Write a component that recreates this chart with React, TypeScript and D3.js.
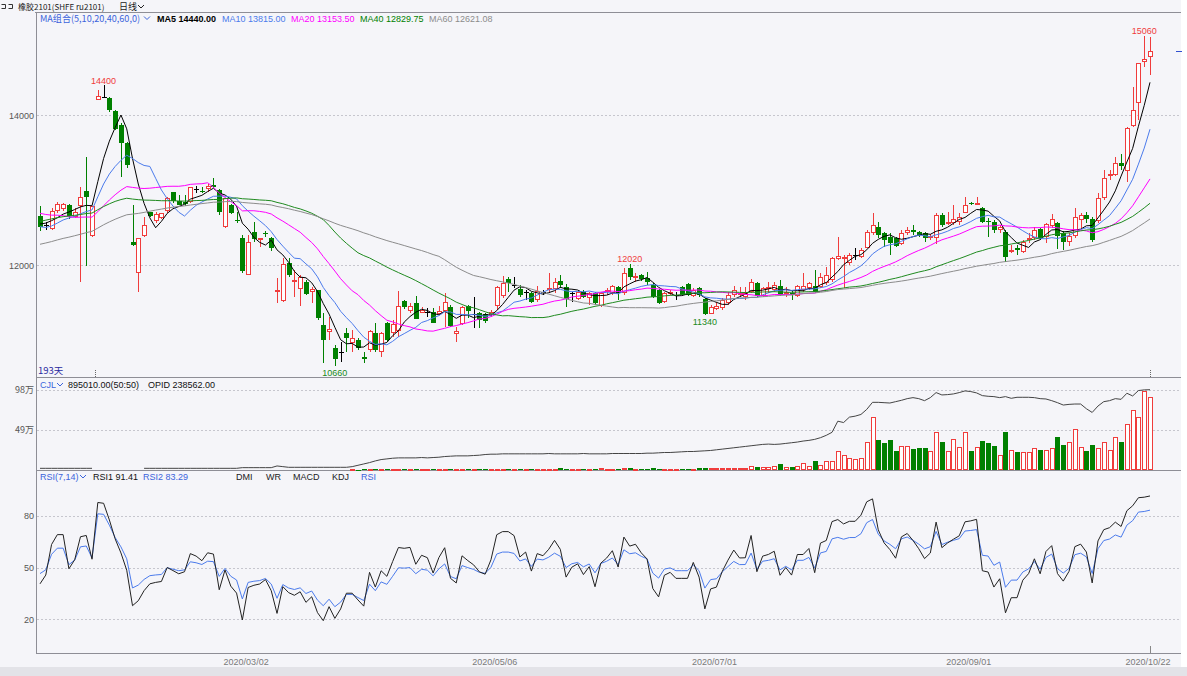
import React from "react";
import * as d3 from "d3";

// ru2101 daily bars, 2020/01/02 .. 2020/10/22 (193 trading days)
const openPx = [
  12653, 12540, 12489, 12724, 12742, 12796, 12636, 12787, 12991, 12387,
  14200, 14244, 14222, 14058, 13867, 13622, 12311, 11889, 12387, 12702,
  12578, 12622, 12711, 12969, 12858, 12844, 12831, 13013, 12987, 13009,
  13067, 13000, 12498, 12800, 12600, 12356, 11867, 12436, 12350, 12422,
  12364, 11636, 11520, 12031, 11800, 11689, 11778, 11640, 11667, 11200,
  11098, 10889, 10844, 11089, 10956, 11000, 10778, 10876, 11098, 10831,
  11231, 11089, 11124, 11524, 11391, 11498, 11364, 11378, 11378, 11347,
  11391, 11444, 11080, 11213, 11453, 11347, 11364, 11347, 11333, 11444,
  11578, 11809, 11733, 11676, 11644, 11631, 11533, 11644, 11667, 11689,
  11791, 11711, 11622, 11556, 11644, 11556, 11622, 11453, 11644, 11622,
  11711, 11622, 11956, 11836, 11867, 11831, 11733, 11667, 11498, 11622,
  11600, 11711, 11747, 11587, 11689, 11542, 11347, 11409, 11422, 11489,
  11600, 11615, 11578, 11644, 11756, 11587, 11689, 11667, 11720, 11622,
  11631, 11587, 11667, 11689, 11720, 11711, 11756, 11800, 12076, 12076,
  12022, 12133, 12111, 12236, 12431, 12511, 12422, 12378, 12356, 12289,
  12422, 12467, 12444, 12422, 12356, 12356, 12667, 12556, 12556, 12578,
  12698, 12831, 12813, 12764, 12587, 12569, 12458, 12440, 12178, 12222,
  12178, 12333, 12356, 12476, 12369, 12511, 12564, 12431, 12311, 12378,
  12600, 12667, 12609, 12578, 12889, 13187, 13200, 13364, 13253, 13853,
  14156, 14698, 14778,
];
const highPx = [
  12787, 12580, 12756, 12845, 12830, 12820, 12756, 13045, 13445, 12790,
  14330, 14400, 14240, 14070, 13900, 13640, 12800, 12360, 12644, 12710,
  12711, 12700, 12911, 12980, 12933, 12933, 13044, 13053, 13044, 13080,
  13156, 13010, 12890, 12810, 12711, 12400, 12400, 12569, 12360, 12458,
  12378, 11822, 12089, 12089, 11933, 11867, 11800, 11711, 11670, 11356,
  11311, 10933, 10978, 11156, 11133, 11022, 10844, 11133, 11231, 11111,
  11244, 11267, 11658, 11530, 11489, 11587, 11444, 11422, 11422, 11458,
  11622, 11467, 11178, 11458, 11467, 11569, 11378, 11360, 11400, 11720,
  11853, 11844, 11844, 11733, 11667, 11644, 11720, 11667, 11889, 11822,
  11867, 11747, 11644, 11660, 11670, 11640, 11640, 11640, 11689, 11733,
  11720, 11956, 12020, 11889, 11880, 11911, 11756, 11676, 11644, 11667,
  11644, 11720, 11760, 11689, 11711, 11556, 11467, 11511, 11556, 11644,
  11720, 11711, 11711, 11809, 11778, 11711, 11778, 11778, 11800, 11711,
  11667, 11733, 11889, 11778, 11933, 11889, 11969, 12111, 12369, 12133,
  12164, 12222, 12222, 12467, 12698, 12578, 12444, 12422, 12370, 12467,
  12511, 12533, 12460, 12444, 12420, 12698, 12689, 12711, 12800, 12689,
  12911, 12844, 12911, 12778, 12622, 12600, 12530, 12467, 12267, 12267,
  12333, 12422, 12511, 12489, 12564, 12676, 12578, 12453, 12422, 12756,
  12698, 12711, 12644, 12964, 13267, 13267, 13436, 13480, 13844, 14378,
  14698, 15060, 15040,
];
const lowPx = [
  12458, 12470, 12467, 12689, 12720, 12620, 12622, 11778, 11991, 12378,
  14200, 14222, 14040, 13800, 13178, 13289, 12260, 11636, 12378, 12640,
  12564, 12610, 12698, 12830, 12800, 12787, 12822, 12956, 12956, 12978,
  13022, 12667, 12489, 12680, 12564, 11898, 11867, 12311, 12245, 12378,
  12187, 11498, 11511, 11844, 11578, 11458, 11600, 11489, 11270, 10689,
  11000, 10660, 10711, 10844, 10844, 10867, 10689, 10844, 10844, 10778,
  10978, 11044, 11044, 11420, 11356, 11276, 11356, 11311, 11222, 11333,
  11178, 11178, 10978, 11200, 11289, 11156, 11156, 11230, 11310, 11400,
  11556, 11644, 11689, 11578, 11533, 11489, 11511, 11600, 11622, 11631,
  11689, 11444, 11511, 11533, 11560, 11467, 11467, 11444, 11600, 11600,
  11533, 11600, 11800, 11778, 11790, 11733, 11556, 11480, 11489, 11600,
  11533, 11587, 11590, 11578, 11578, 11340, 11345, 11400, 11400, 11467,
  11578, 11578, 11533, 11622, 11578, 11578, 11622, 11644, 11587, 11578,
  11533, 11578, 11644, 11667, 11631, 11689, 11733, 11778, 12067, 11689,
  12000, 12067, 12089, 12222, 12400, 12356, 12245, 12133, 12245, 12267,
  12400, 12400, 12378, 12311, 12330, 12280, 12511, 12533, 12533, 12533,
  12689, 12800, 12800, 12556, 12378, 12422, 12422, 12044, 12156, 12133,
  12156, 12298, 12333, 12333, 12289, 12489, 12209, 12200, 12253, 12356,
  12489, 12556, 12311, 12556, 12867, 13133, 13187, 13267, 13111, 13844,
  13933, 14644, 14533,
];
const closePx = [
  12502, 12540, 12724, 12813, 12813, 12644, 12702, 12902, 12916, 12787,
  14253, 14244, 14058, 13822, 13622, 13333, 12267, 12356, 12533, 12653,
  12676, 12689, 12889, 12844, 12800, 12822, 13036, 13013, 12973, 13053,
  13044, 12711, 12889, 12689, 12587, 11911, 12311, 12342, 12358, 12409,
  12231, 11667, 12009, 11867, 11805, 11844, 11622, 11676, 11289, 11000,
  11142, 10742, 10844, 11022, 11022, 10889, 10756, 11124, 10867, 11089,
  11000, 11209, 11453, 11444, 11458, 11289, 11400, 11378, 11231, 11391,
  11511, 11187, 11124, 11444, 11391, 11347, 11276, 11253, 11378, 11702,
  11756, 11756, 11733, 11600, 11644, 11511, 11658, 11644, 11698, 11778,
  11733, 11556, 11622, 11644, 11578, 11622, 11489, 11631, 11667, 11720,
  11631, 11889, 11836, 11853, 11809, 11778, 11578, 11498, 11622, 11640,
  11600, 11600, 11600, 11667, 11600, 11347, 11444, 11453, 11533, 11600,
  11667, 11630, 11631, 11778, 11587, 11698, 11711, 11733, 11600, 11644,
  11600, 11720, 11720, 11756, 11644, 11844, 11867, 12089, 12120, 12102,
  12133, 12133, 12200, 12444, 12533, 12400, 12333, 12298, 12253, 12431,
  12467, 12436, 12400, 12356, 12387, 12667, 12533, 12578, 12613, 12644,
  12800, 12813, 12831, 12578, 12569, 12458, 12502, 12102, 12200, 12200,
  12311, 12356, 12467, 12356, 12547, 12609, 12387, 12311, 12387, 12636,
  12667, 12613, 12333, 12889, 13156, 13209, 13356, 13320, 13822, 14067,
  14689, 14742, 14858,
];
// closes before the window, used only to warm up MA / RSI
const priorCloses = [
  11520, 11580, 11490, 11610, 11650, 11560, 11700, 11640, 11720, 11680,
  11600, 11750, 11690, 11760, 11640, 11710, 11800, 11740, 11690, 11780,
  11900, 12050, 12150, 12300, 12250, 12380, 12450, 12400, 12520, 12480,
  12560, 12600, 12530, 12650, 12620, 12700, 12680, 12750, 12720, 12800,
  12850, 12900, 12830, 12950, 12880, 12920, 12840, 12870, 12810, 12820,
  12650, 12520, 12430, 12400, 12380, 12480, 12560, 12620, 12570,
];
// volume, 万手
const volume = [
  0, 0, 0, 0, 0, 0, 0, 0, 0, 0,
  0, 0, 0, 0, 0, 0, 0, 0, 0, 0,
  0, 0, 0, 0, 0, 0, 0, 0, 0, 0,
  0, 0, 0, 0, 0, 0, 0, 0, 0, 0,
  0, 0, 0, 0, 0, 0, 0, 0, 0, 0,
  0, 0, 0, 0, 0.8, 0.6, 1.0, 0.8, 1.2, 0.8,
  1.0, 0.8, 1.5, 1.0, 0.8, 1.2, 0.8, 1.0, 1.2, 0.9,
  1.5, 1.4, 1.0, 1.6, 1.2, 1.3, 1.4, 1.5, 1.2, 1.8,
  1.6, 1.5, 1.3, 1.6, 1.2, 1.5, 1.6, 1.2, 1.8, 1.5,
  2.2, 1.8, 1.3, 1.5, 1.4, 1.6, 1.8, 1.9, 1.5, 1.7,
  1.6, 2.4, 2.0, 1.6, 1.5, 1.7, 2.0, 1.8, 1.5, 1.4,
  1.6, 1.7, 1.8, 1.6, 2.8, 3.0, 2.0, 2.1, 2.5, 3.0,
  3.0, 2.6, 3.0, 4.5, 3.8, 3.2, 3.6, 5.0, 6.9, 4.0,
  3.3, 4.5, 8.2, 5.3, 10.6, 5.7, 11.0, 11.0, 23.3, 18.4,
  15.1, 13.5, 14.3, 33.9, 64.5, 37.2, 33.0, 37.2, 23.3, 29.0,
  29.0, 25.7, 26.5, 26.5, 23.3, 46.0, 34.7, 23.3, 38.0, 28.2,
  46.0, 23.3, 27.8, 35.5, 33.0, 29.4, 18.4, 46.0, 24.0, 22.0,
  22.0, 22.0, 26.5, 25.0, 25.0, 27.4, 40.4, 30.2, 34.7, 50.2,
  28.2, 23.3, 30.2, 27.4, 34.7, 25.0, 40.0, 34.7, 56.3, 72.7,
  65.0, 96.8, 89.501,
];
// open interest (OPID), 千手; null = no quote for ru2101 yet
const openInterest = [
  5, 5, 5, 5, 5, 5, 5, 5, 5, 5,
  null, null, null, null, null, null, null, null, 5, 5,
  5, 5, 5, 5, 5, 5, 5, 5, 5, 5,
  5, 5, 5, 5, 5, 7, 7, 7, 7, 7,
  7, 12, 10, 8, 8, 8, 8, 8, 8, 8,
  8, 8, 8, 8, 10, 14, 18, 22, 27, 31,
  33, 35, 36, 36, 36, 36, 37, 36, 37, 38,
  40, 41, 42, 42, 42, 43, 44, 46, 47, 47,
  48, 48, 48, 48, 48, 48, 48, 48, 49, 48,
  48, 48, 48, 48, 49, 48, 48, 48, 48, 49,
  49, 49, 49, 49, 49, 50, 50, 51, 52, 52,
  53, 54, 55, 55, 56, 57, 58, 60, 62, 64,
  66, 68, 70, 72, 74, 76, 77, 76, 77, 79,
  81, 83, 86, 88, 91, 96, 103, 112, 145, 141,
  157, 160, 165, 180, 201, 201, 200, 199, 203, 207,
  212, 215, 212, 206, 215, 230, 223, 224, 226, 230,
  235, 233, 229, 221, 219, 218, 215, 218, 213, 216,
  216, 216, 215, 212, 211, 206, 200, 193, 195, 196,
  196, 182, 171, 190, 203, 206, 212, 210, 228, 220,
  236, 238, 238.562,
];
const dateTicks = [
  { day: 36, label: "2020/03/02" },
  { day: 79, label: "2020/05/06" },
  { day: 117, label: "2020/07/01" },
  { day: 161, label: "2020/09/01" },
  { day: 192, label: "2020/10/22" },
];
const peakDays = [11, 102, 191];
const troughDays = [51, 115];
const maPeriods = [5, 10, 20, 40, 60];
const maColors = ["#000000", "#4b7bec", "#ff00ff", "#1f8a1f", "#8c8c8c"];
const maLegend = ["MA5 14440.00", "MA10 13815.00", "MA20 13153.50", "MA40 12829.75", "MA60 12621.08"];
const priceTicks = [12000, 14000];
const volTicks = [49, 98];
const rsiTicks = [20, 50, 80];

const W = 1187;
const H = 676;
const RED = "#f03c3c";
const GREEN = "#008000";
const BG = "#f5f5f9";
const GRID = "#c6c6ce";
const AXIS = "#8e8e96";
const BLUE = "#3c64dc";
const FONT = "'Liberation Sans', Arial, sans-serif";
const CJK = "'Noto Sans CJK SC', 'Liberation Sans', sans-serif";

const series = [...priorCloses, ...closePx];
const warm = priorCloses.length;

function movingAvg(n: number) {
  return closePx.map((_, i) => d3.mean(series.slice(warm + i - n + 1, warm + i + 1)) as number);
}

// RSI as in Chinese quote software: SMA(MAX(C-LC,0),N,1)/SMA(ABS(C-LC),N,1)*100
function rsi(n: number) {
  let up = 0;
  let all = 0;
  const out: number[] = [];
  for (let k = 1; k < series.length; k++) {
    const d = series[k] - series[k - 1];
    up = (Math.max(d, 0) + (n - 1) * up) / n;
    all = (Math.abs(d) + (n - 1) * all) / n;
    if (k >= warm) out.push(all === 0 ? 50 : (100 * up) / all);
  }
  return out;
}

function Chev({ x, y, color }: { x: number; y: number; color: string }) {
  return <path d={`M${x},${y} l3,3 l3,-3`} fill="none" stroke={color} strokeWidth={1} />;
}

export default function App() {
  const n = closePx.length;
  const x = d3.scaleLinear().domain([0, n - 1]).range([40, 1150]);
  const yP = d3.scaleLinear().domain([12000, 14000]).range([265, 115]);
  const yV = d3.scaleLinear().domain([0, 98]).range([470, 389.7]);
  const yOi = d3.scaleLinear().domain([0, d3.max(openInterest as number[]) as number]).range([470, 389.7]);
  const yR = d3.scaleLinear().domain([20, 80]).range([619.3, 515.7]);
  const px = (i: number) => Math.round(x(i));

  const maLine = d3.line<number>().x((_, i) => x(i)).y((v) => yP(v));
  const oiLine = d3
    .line<number | null>()
    .defined((v) => v !== null)
    .x((_, i) => x(i))
    .y((v) => yOi(v as number));
  const rsiLine = d3.line<number>().x((_, i) => x(i)).y((v) => yR(v));

  const mas = maPeriods.map(movingAvg);
  const rsi1 = rsi(7);
  const rsi2 = rsi(14);

  const candles = closePx.map((c, i) => {
    const o = openPx[i];
    const cx = px(i) + 0.5;
    const top = yP(Math.max(o, c));
    const bot = yP(Math.min(o, c));
    if (o === c) {
      return (
        <g key={i} stroke="#000">
          <line x1={cx} x2={cx} y1={yP(highPx[i])} y2={yP(lowPx[i])} />
          <line x1={cx - 2.5} x2={cx + 2.5} y1={Math.round(top) + 0.5} y2={Math.round(top) + 0.5} />
        </g>
      );
    }
    const color = c > o ? RED : GREEN;
    const h = Math.max(1, Math.round(bot - top));
    return (
      <g key={i}>
        <line x1={cx} x2={cx} y1={yP(highPx[i])} y2={yP(lowPx[i])} stroke={color} />
        {c > o ? (
          <rect x={cx - 2} y={Math.round(top) + 0.5} width={4} height={Math.max(1, h - 1)} fill="#ffffff" stroke={RED} />
        ) : (
          <rect x={cx - 2.5} y={Math.round(top)} width={5} height={h} fill={GREEN} />
        )}
      </g>
    );
  });

  const volBars = volume.map((v, i) => {
    if (v <= 0) return null;
    const cx = px(i) + 0.5;
    const top = Math.round(yV(v));
    const h = Math.max(1, 470 - top);
    if (closePx[i] >= openPx[i]) {
      return <rect key={i} x={cx - 2} y={top + 0.5} width={4} height={Math.max(0.5, h - 1)} fill="#ffffff" stroke={RED} />;
    }
    return <rect key={i} x={cx - 2.5} y={top} width={5} height={h} fill={GREEN} />;
  });

  const legendX = [157, 222, 291, 360, 429];

  return (
    <div style={{ position: "absolute", left: 0, top: 0 }}>
      <svg width={W} height={H} viewBox={`0 0 ${W} ${H}`} style={{ display: "block" }}>
        <rect x={0} y={0} width={W} height={H} fill={BG} />
        <rect x={1181} y={0} width={6} height={667} fill="#ffffff" />
        <rect x={0} y={667} width={W} height={9} fill="#e3e3e8" />

        {/* title row */}
        <g fill="none" stroke="#333">
          <path d="M1.5,4.5 h4 v4 h-4" />
          <path d="M8.5,4.5 h4 v4 h-4" />
        </g>
        <text x={18} y={9.5} fontFamily={CJK} fontSize={8} fill="#222">
          橡胶2101(SHFE ru2101)
        </text>
        <text x={119} y={9.5} fontFamily={CJK} fontSize={9} fill="#222">日线</text>
        <Chev x={138} y={5} color="#222" />

        {/* frame */}
        <g stroke={AXIS} strokeWidth={1} shapeRendering="crispEdges">
          <line x1={35} x2={1181} y1={12.5} y2={12.5} />
          <line x1={36.5} x2={36.5} y1={12} y2={653} />
          <line x1={36} x2={1181} y1={377.5} y2={377.5} />
          <line x1={36} x2={1181} y1={470.5} y2={470.5} />
          <line x1={36} x2={1181} y1={653.5} y2={653.5} />
        </g>

        {/* grids */}
        <g stroke={GRID} strokeDasharray="2,2" shapeRendering="crispEdges">
          {priceTicks.map((t) => (
            <line key={t} x1={37} x2={1181} y1={Math.round(yP(t)) + 0.5} y2={Math.round(yP(t)) + 0.5} />
          ))}
          {volTicks.map((t) => (
            <line key={t} x1={37} x2={1181} y1={Math.round(yV(t)) + 0.5} y2={Math.round(yV(t)) + 0.5} />
          ))}
          {rsiTicks.map((t) => (
            <line key={t} x1={37} x2={1181} y1={Math.round(yR(t)) + 0.5} y2={Math.round(yR(t)) + 0.5} />
          ))}
        </g>

        {/* axis labels */}
        <g fontFamily={FONT} fontSize={9} fill="#555" textAnchor="end">
          {priceTicks.map((t) => (
            <text key={t} x={34} y={yP(t) + 3.5}>{t}</text>
          ))}
          {volTicks.map((t) => (
            <text key={t} x={34} y={yV(t) + 3.5} fontFamily={CJK}>{`${t}万`}</text>
          ))}
          {rsiTicks.map((t) => (
            <text key={t} x={34} y={yR(t) + 3.5}>{t}</text>
          ))}
        </g>

        {/* price panel */}
        <g shapeRendering="crispEdges">{candles}</g>
        <g fill="none" strokeWidth={1}>
          {mas.map((m, k) => (
            <path key={k} d={maLine(m) ?? ""} stroke={maColors[k]} />
          ))}
        </g>
        <g fontFamily={FONT} fontSize={9} textAnchor="middle">
          {peakDays.map((i) => (
            <text key={i} x={x(i)} y={yP(highPx[i]) - 1.5} fill={RED}>{highPx[i]}</text>
          ))}
          {troughDays.map((i) => (
            <text key={i} x={x(i)} y={yP(lowPx[i]) + 10.5} fill="#1a8a1a">{lowPx[i]}</text>
          ))}
        </g>
        <g stroke="#666" strokeDasharray="1,1" shapeRendering="crispEdges">
          <line x1={Math.round((x(9) + x(10)) / 2) + 0.5} x2={Math.round((x(9) + x(10)) / 2) + 0.5} y1={370} y2={377} />
          <line x1={px(n - 1) + 0.5} x2={px(n - 1) + 0.5} y1={370} y2={377} />
        </g>
        <line x1={1176} x2={1182} y1={Math.round(yP(closePx[n - 1])) + 0.5} y2={Math.round(yP(closePx[n - 1])) + 0.5} stroke="#3050d0" />
        <text x={38} y={374} fontFamily={CJK} fontSize={9.5} fill="#2a2aa0">193天</text>

        {/* legend */}
        <text x={40} y={21.5} fontFamily={CJK} fontSize={9.5} fill={BLUE} textLength={100} lengthAdjust="spacingAndGlyphs">
          MA组合(5,10,20,40,60,0)
        </text>
        <Chev x={144} y={16.5} color={BLUE} />
        {maLegend.map((s, k) => (
          <text
            key={s}
            x={legendX[k]}
            y={21.5}
            fontFamily={FONT}
            fontSize={9}
            fontWeight={k === 0 ? "bold" : "normal"}
            fill={k === 0 ? "#000" : maColors[k] === "#1f8a1f" ? GREEN : maColors[k]}
          >
            {s}
          </text>
        ))}

        {/* volume panel */}
        <g shapeRendering="crispEdges">{volBars}</g>
        <path d={oiLine(openInterest) ?? ""} fill="none" stroke="#444" strokeWidth={1} />
        <text x={40} y={387.5} fontFamily={FONT} fontSize={9} fill={BLUE}>CJL</text>
        <Chev x={57} y={383} color={BLUE} />
        <text x={68} y={387.5} fontFamily={FONT} fontSize={9} fill="#111">895010.00(50:50)</text>
        <text x={148} y={387.5} fontFamily={FONT} fontSize={9} fill="#111">OPID 238562.00</text>

        {/* RSI panel */}
        <path d={rsiLine(rsi2) ?? ""} fill="none" stroke="#4b7bec" strokeWidth={1} />
        <path d={rsiLine(rsi1) ?? ""} fill="none" stroke="#222" strokeWidth={1} />
        <g fontFamily={FONT} fontSize={9}>
          <text x={40} y={479.5} fill={BLUE}>RSI(7,14)</text>
          <text x={93} y={479.5} fill="#111">RSI1 91.41</text>
          <text x={143} y={479.5} fill={BLUE}>RSI2 83.29</text>
          <text x={236} y={479.5} fill="#222">DMI</text>
          <text x={266} y={479.5} fill="#222">WR</text>
          <text x={293} y={479.5} fill="#222">MACD</text>
          <text x={332} y={479.5} fill="#222">KDJ</text>
          <text x={361} y={479.5} fill={BLUE}>RSI</text>
        </g>
        <Chev x={80} y={475} color={BLUE} />
        <line x1={px(n - 1) + 0.5} x2={px(n - 1) + 0.5} y1={646} y2={653} stroke="#888" />

        {/* date axis */}
        <g fontFamily={FONT} fontSize={9} fill="#7a7a7a" textAnchor="middle">
          {dateTicks.map((d) => (
            <text key={d.label} x={x(d.day) - 2} y={664.5}>{d.label}</text>
          ))}
        </g>
      </svg>
    </div>
  );
}
